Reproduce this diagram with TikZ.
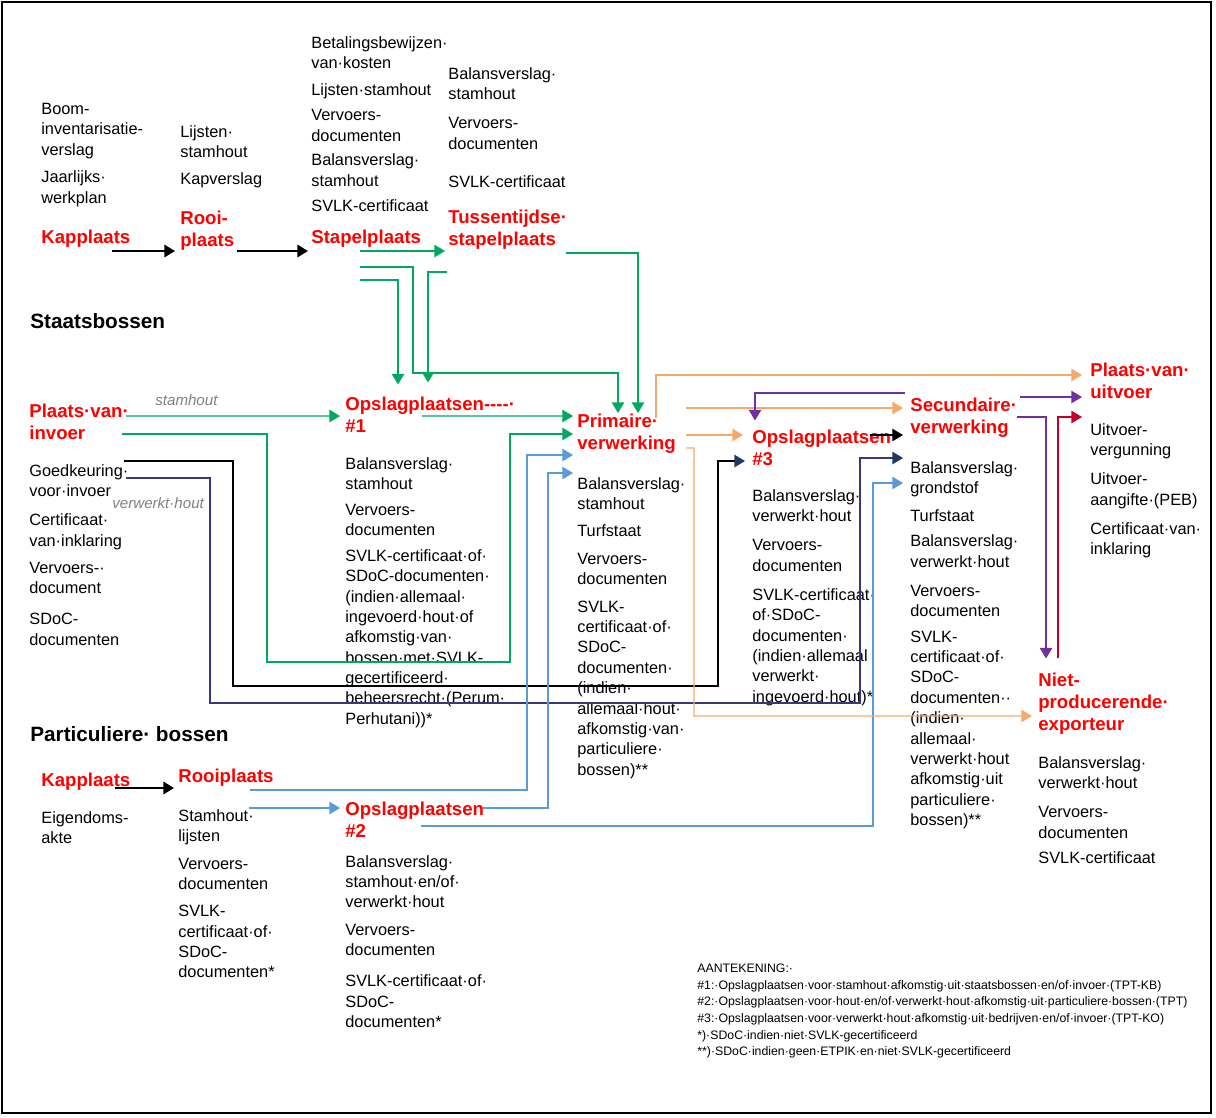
\documentclass[tikz,border=0pt]{standalone}
\usepackage{fontspec}
\setmainfont{Liberation Sans}
\usepackage{tikz}
\usetikzlibrary{arrows.meta,calc}
\definecolor{placered}{RGB}{255,0,0}
\definecolor{flowgreen}{RGB}{0,168,96}
\definecolor{flowblue}{RGB}{91,155,213}
\definecolor{flownavy}{RGB}{31,56,100}
\definecolor{flowindigo}{RGB}{55,55,125}
\definecolor{floworange}{RGB}{244,170,110}
\definecolor{flowpurple}{RGB}{112,48,160}
\definecolor{flowcrimson}{RGB}{192,0,40}

\begin{document}
\begin{tikzpicture}[x=0.02cm, y=-0.02cm,
  loc/.style={anchor=west, inner sep=0pt, align=left, text=placered, font=\fontsize{10.6}{12.4}\selectfont\bfseries},
  docs/.style={anchor=north west, inner sep=0pt, align=left, font=\fontsize{9.3}{11.6}\selectfont},
  hdr/.style={anchor=west, inner sep=0pt, font=\fontsize{11.8}{14}\selectfont\bfseries},
  lbl/.style={anchor=west, inner sep=0pt, text=gray, font=\fontsize{8.6}{10}\selectfont\itshape},
  note/.style={anchor=north west, inner sep=0pt, align=left, font=\fontsize{7}{9.4}\selectfont},
  arr/.style={-{Triangle[length=6pt,width=7pt]}, line width=0.8pt},
  navyhead/.style={-{Triangle[length=6pt,width=7pt,color=flownavy]}, line width=0.8pt}]
\useasboundingbox (0,0) rectangle (1216,1117);
\draw[line width=1.6pt] (2,2) rectangle (1211,1113);

% headings
\node[hdr] (stb) at (30,321) {Staatsbossen};
\node[hdr] (pbos) at (30,734) {Particuliere· bossen};

% places
\node[loc] (kapS) at (41,239) {Kapplaats};
\node[loc] (rooiS) at (180,230.5) {Rooi-\\plaats};
\node[loc] (stapel) at (311,239) {Stapelplaats};
\node[loc] (tussen) at (448,230) {Tussentijdse·\\stapelplaats};
\node[loc] (pvi) at (29,421.5) {Plaats·van·\\invoer};
\node[loc] (ops1) at (345,414.5) {Opslagplaatsen-{}-{}-{}-·\\\#1};
\node[loc] (prim) at (577,434) {Primaire·\\verwerking};
\node[loc] (ops3) at (752,447.5) {Opslagplaatsen\\\#3};
\node[loc] (sec) at (910,418) {Secundaire·\\verwerking};
\node[loc] (pvu) at (1090,381) {Plaats·van·\\uitvoer};
\node[loc] (npe) at (1038,703.5) {Niet-\\producerende·\\exporteur};
\node[loc] (kapP) at (41,782) {Kapplaats};
\node[loc] (rooiP) at (178,778) {Rooiplaats};
\node[loc] (ops2) at (345,820) {Opslagplaatsen\\\#2};

% documents
\node[docs] (dKapS) at (41,103) {Boom-\\inventarisatie-\\verslag\\[4pt]Jaarlijks·\\werkplan};
\node[docs] (dRooiS) at (180,125) {Lijsten·\\stamhout\\[4pt]Kapverslag};
\node[docs] (dStapel) at (311,36) {Betalingsbewijzen·\\van·kosten\\[4pt]Lijsten·stamhout\\[2.5pt]Vervoers-\\documenten\\[2.5pt]Balansverslag·\\stamhout\\[3pt]SVLK-certificaat};
\node[docs] (dTussen) at (448,67) {Balansverslag·\\stamhout\\[5pt]Vervoers-\\documenten\\[10pt]SVLK-certificaat};
\node[docs] (dPvi) at (29,464) {Goedkeuring·\\voor·invoer\\[5pt]Certificaat·\\van·inklaring\\[4pt]Vervoers-·\\document\\[6pt]SDoC-\\documenten};
\node[docs] (dOps1) at (345,457) {Balansverslag·\\stamhout\\[3pt]Vervoers-\\documenten\\[3pt]SVLK-certificaat·of·\\SDoC-documenten·\\(indien·allemaal·\\ingevoerd·hout·of\\afkomstig·van·\\bossen·met·SVLK-\\gecertificeerd·\\beheersrecht·(Perum·\\Perhutani))*};
\node[docs] (dPrim) at (577,477) {Balansverslag·\\stamhout\\[4pt]Turfstaat\\[4pt]Vervoers-\\documenten\\[4pt]SVLK-\\certificaat·of·\\SDoC-\\documenten·\\(indien·\\allemaal·hout·\\afkomstig·van·\\particuliere·\\bossen)**};
\node[docs] (dOps3) at (752,489) {Balansverslag·\\verwerkt·hout\\[5pt]Vervoers-\\documenten\\[5pt]SVLK-certificaat·\\of·SDoC-\\documenten·\\(indien·allemaal\\verwerkt·\\ingevoerd·hout)*};
\node[docs] (dSec) at (910,461) {Balansverslag·\\grondstof\\[4pt]Turfstaat\\[3pt]Balansverslag·\\verwerkt·hout\\[5pt]Vervoers-\\documenten\\[3pt]SVLK-\\certificaat·of·\\SDoC-\\documenten··\\(indien·\\allemaal·\\verwerkt·hout\\afkomstig·uit\\particuliere·\\bossen)**};
\node[docs] (dPvu) at (1090,423) {Uitvoer-\\vergunning\\[5pt]Uitvoer-\\aangifte·(PEB)\\[5pt]Certificaat·van·\\inklaring};
\node[docs] (dNpe) at (1038,756) {Balansverslag·\\verwerkt·hout\\[5pt]Vervoers-\\documenten\\[3pt]SVLK-certificaat};
\node[docs] (dKapP) at (41,811) {Eigendoms-\\akte};
\node[docs] (dRooiP) at (178,809) {Stamhout·\\lijsten\\[4pt]Vervoers-\\documenten\\[4pt]SVLK-\\certificaat·of·\\SDoC-\\documenten*};
\node[docs] (dOps2) at (345,855) {Balansverslag·\\stamhout·en/of·\\verwerkt·hout\\[4pt]Vervoers-\\documenten\\[6pt]SVLK-certificaat·of·\\SDoC-\\documenten*};

% labels and note
\node[lbl] (lStam) at (155,400) {stamhout};
\node[lbl] (lVerw) at (112,503) {verwerkt·hout};
\node[note] (aant) at (697,964) {AANTEKENING:·\\\#1:·Opslagplaatsen·voor·stamhout·afkomstig·uit·staatsbossen·en/of·invoer·(TPT-KB)\\\#2:·Opslagplaatsen·voor·hout·en/of·verwerkt·hout·afkomstig·uit·particuliere·bossen·(TPT)\\\#3:·Opslagplaatsen·voor·verwerkt·hout·afkomstig·uit·bedrijven·en/of·invoer·(TPT-KO)\\{}*)·SDoC·indien·niet·SVLK-gecertificeerd\\{}**)·SDoC·indien·geen·ETPIK·en·niet·SVLK-gecertificeerd};

% state forest chain
\draw[arr, line width=1.1pt] ($(kapS.west)+(71,12)$) -- ($(rooiS.west)+(-5,20.5)$);
\draw[arr, line width=1.1pt] ($(rooiS.west)+(57,20.5)$) -- ($(stapel.west)+(-3,12)$);
\draw[arr, flowgreen] ($(stapel.west)+(49,12)$) -- ($(tussen.west)+(-3,21)$);
\draw[arr, flowgreen] ($(tussen.west)+(118,23)$) -| ($(prim.west)+(61,-21)$);
\draw[arr, flowgreen] ($(stapel.west)+(49,28)$) -- ++(53,0) -- ++(0,106) -| ($(prim.west)+(41,-21)$);
\draw[arr, flowgreen] ($(stapel.west)+(49,41)$) -| ($(ops1.west)+(53,-30)$);
\draw[arr, flowgreen] ($(tussen.west)+(-1,42)$) -| ($(ops1.west)+(83,-32)$);

% import
\draw[arr, flowgreen] ($(pvi.west)+(97,-5.5)$) -- ($(ops1.west)+(-5,1.5)$);
\draw[arr, flowgreen] ($(ops1.west)+(77,1.5)$) -- ($(prim.west)+(-4,-18)$);
\draw[arr, flowgreen] ($(pvi.west)+(93,12.5)$) -- ++(145,0) -- ++(0,228) -- ++(243,0) |- ($(prim.west)+(-4,0)$);
\draw[navyhead] ($(dPvi.north west)+(95,-3)$) -- ++(109,0) -- ++(0,225) -- ++(485,0) |- ($(ops3.west)+(-7,13.5)$);
\draw[navyhead, flowindigo] ($(dPvi.north west)+(97,14)$) -- ++(84,0) -- ++(0,225) -- ++(650,0) |- ($(sec.west)+(-7,40)$);

% private forest
\draw[arr, line width=1.1pt] ($(kapP.west)+(74,6)$) -- ($(rooiP.west)+(-4,10)$);
\draw[arr, flowblue] ($(rooiP.west)+(72,12)$) -- ++(277,0) |- ($(prim.west)+(-4,21)$);
\draw[arr, flowblue] ($(rooiP.west)+(71,30)$) -- ($(ops2.west)+(-5,-12)$);
\draw[arr, flowblue] ($(ops2.west)+(138,-12)$) -- ++(65,0) |- ($(prim.west)+(-4,39)$);
\draw[arr, flowblue] ($(ops2.west)+(76,6)$) -- ++(452,0) |- ($(sec.west)+(-7,65)$);

% processing and export
\draw[arr, floworange] ($(prim.west)+(79,-16)$) |- ($(pvu.west)+(-8,-6)$);
\draw[arr, floworange] ($(prim.west)+(109,-26)$) -- ($(sec.west)+(-7,-10)$);
\draw[arr, floworange] ($(prim.west)+(109,1)$) -- ($(ops3.west)+(-9,-12.5)$);
\draw[arr, floworange] ($(prim.west)+(109,14)$) -- ++(8,0) -- ++(0,268) -- ($(npe.west)+(-6,12.5)$);
\draw[arr] ($(ops3.west)+(118,-12.5)$) -- ($(sec.west)+(-7,17)$);
\draw[arr, flowpurple] ($(sec.west)+(-5,-25)$) -| ($(ops3.west)+(3,-27)$);
\draw[arr, flowpurple] ($(sec.west)+(110,-21)$) -- ($(pvu.west)+(-8,16)$);
\draw[arr, flowpurple] ($(sec.west)+(107,-1)$) -| ($(npe.west)+(8,-45)$);
\draw[arr, flowcrimson] ($(npe.west)+(20,-46)$) |- ($(pvu.west)+(-8,36)$);
\end{tikzpicture}
\end{document}
